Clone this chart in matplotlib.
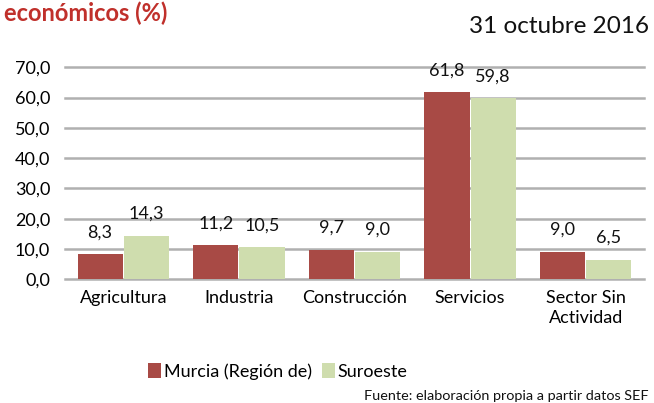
import numpy as np
import matplotlib.pyplot as plt

# datos
sectores = ["Agricultura", "Industria", "Construcción", "Servicios", "Sector Sin\nActividad"]
murcia = [8.3, 11.2, 9.7, 61.8, 9.0]
suroeste = [14.3, 10.5, 9.0, 59.8, 6.5]
yticks = [0, 10, 20, 30, 40, 50, 60, 70]

plt.rcParams['font.family'] = ['Lato', 'DejaVu Sans']

fig = plt.figure(figsize=(6.54, 4.03), dpi=100)
ax = fig.add_axes([0.100, 0.307, 0.884, 0.526])

x = np.arange(len(sectores))
w = 0.39
b1 = ax.bar(x - w/2 - 0.005, murcia, w, color='#A84A45', label='Murcia (Región de)', zorder=3)
b2 = ax.bar(x + w/2 + 0.005, suroeste, w, color='#CFDDAE', label='Suroeste', zorder=3)

for rects, vals in ((b1, murcia), (b2, suroeste)):
    for r, v in zip(rects, vals):
        ax.text(r.get_x() + r.get_width()/2, v + 4.6, ("%.1f" % v).replace('.', ','),
                ha='center', va='bottom', fontsize=13, color='#111111')

ax.set_xlim(-0.5, 4.5)
ax.set_ylim(0, 70)
ax.set_yticks(yticks)
ax.set_yticklabels([("%.1f" % t).replace('.', ',') for t in yticks], fontsize=13)
ax.set_xticks(x)
ax.set_xticklabels(sectores, fontsize=13, linespacing=1.25)
ax.tick_params(length=0)
ax.tick_params(axis='y', pad=11)
ax.tick_params(axis='x', pad=8)
for s in ax.spines.values():
    s.set_visible(False)
for t in yticks:
    ax.axhline(t, color='#B0B0B0', lw=1.8, zorder=1, clip_on=False)

fig.legend(handles=[b1, b2], loc='center', bbox_to_anchor=(0.425, 0.078), ncol=2,
           frameon=False, fontsize=13, handlelength=0.7, handleheight=0.9,
           handletextpad=0.15, columnspacing=0.6)

fig.text(0.006, 0.997, "económicos (%)", color='#C0302B', fontsize=17, fontweight='bold',
         ha='left', va='top')
fig.text(0.992, 0.935, "31 octubre 2016", color='#111111', fontsize=17.5, ha='right', va='center')
fig.text(0.992, 0.018, "Fuente: elaboración propia a partir datos SEF", color='#111111',
         fontsize=10.4, ha='right', va='center')

fig.savefig('out.png', dpi=100)
